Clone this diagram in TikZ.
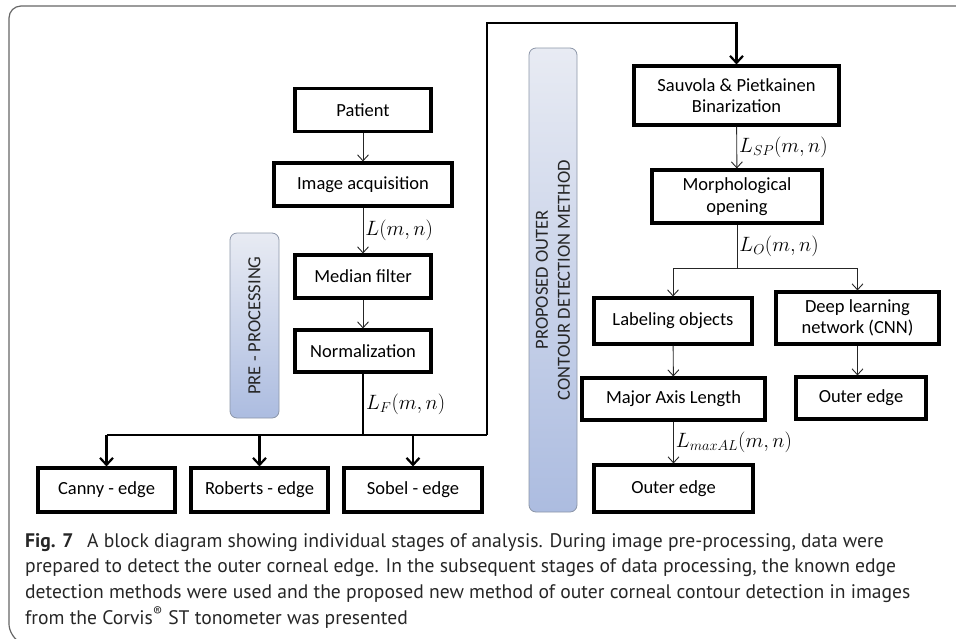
\documentclass[tikz,border=0pt]{standalone}
\usepackage{amsmath}
\usepackage{fontspec}
\setmainfont{Carlito}
\newfontfamily\capfont{PT Sans}
\usepackage{xcolor}
\usetikzlibrary{arrows.meta,shadows}
\definecolor{tabtop}{RGB}{232,235,243}
\definecolor{tabbot}{RGB}{172,188,224}
\definecolor{tabline}{RGB}{140,150,168}
\begin{document}
\begin{tikzpicture}[x=1pt,y=-1pt,
	box/.style={rectangle, draw=black, line width=3.1pt, fill=white, align=center,
		font=\fontsize{18.5}{21.5}\selectfont, inner sep=0pt,
		drop shadow={shadow xshift=1.5pt, shadow yshift=-1.5pt, opacity=0.25}},
	tab/.style={rectangle, rounded corners=7pt, draw=tabline, line width=0.8pt,
		top color=tabtop, bottom color=tabbot, align=center, inner sep=0pt,
		font=\fontsize{18}{22}\selectfont, text=black!85},
	thinarrow/.style={line width=0.9pt, draw=black!85, -{Straight Barb[length=6pt,width=11pt]}},
	thickarrow/.style={line width=2.2pt, -{Straight Barb[length=7pt,width=13pt,line width=2.2pt]}},
	lbl/.style={right, inner sep=2pt, font=\fontsize{21}{24}\selectfont},
	captext/.style={anchor=base west, inner sep=0pt, text=black!85, font=\capfont\fontsize{19.6}{23}\selectfont}]
				\useasboundingbox (0,0) rectangle (956,638);
				% frame
				\draw[black!60, line width=1.2pt, rounded corners=12pt] (960,6) -- (9,6) -- (9,636) -- (16,640);
				% tabs
				\node[tab, minimum width=49pt, minimum height=185pt] (pretab) at (254.5,325.5) {};
				\node[rotate=90, font=\fontsize{18.5}{22}\selectfont, text=black!85] at (pretab.center) {PRE - PROCESSING};
				\node[tab, minimum width=48pt, minimum height=464pt] (protab) at (553,280) {};
				\node[rotate=90, align=center, font=\fontsize{18.5}{22}\selectfont, text=black!85] at (protab.center) {PROPOSED OUTER\\CONTOUR DETECTION METHOD};
				% pre-processing
				\node[box, minimum width=136pt, minimum height=43pt] (pat) at (363,110) {Patient};
				\node[box, minimum width=178pt, minimum height=43pt] (acq) at (363,184.5) {Image acquisition};
				\node[box, minimum width=136pt, minimum height=43pt] (med) at (363,276.5) {Median filter};
				\node[box, minimum width=136pt, minimum height=42pt] (norm) at (363,351) {Normalization};
				% known edge detectors
				\node[box, minimum width=137pt, minimum height=44pt] (canny) at (106.5,490) {Canny - edge};
				\node[box, minimum width=137pt, minimum height=44pt] (rob) at (259.5,490) {Roberts - edge};
				\node[box, minimum width=138pt, minimum height=44pt] (sob) at (413,490) {Sobel - edge};
				% proposed method
				\node[box, minimum width=205pt, minimum height=59pt] (sauv) at (736.5,95.5) {Sauvola \& Pietkainen\\Binarization};
				\node[box, minimum width=170pt, minimum height=53pt] (morph) at (737,196.5) {Morphological\\opening};
				\node[box, minimum width=158pt, minimum height=46pt] (lab) at (673,321) {Labeling objects};
				\node[box, minimum width=163pt, minimum height=52pt] (cnn) at (857.5,318) {Deep learning\\network (CNN)};
				\node[box, minimum width=183pt, minimum height=42pt] (maj) at (673.5,399) {Major Axis Length};
				\node[box, minimum width=130pt, minimum height=42pt] (out2) at (861,398) {Outer edge};
				\node[box, minimum width=159pt, minimum height=47pt] (out1) at (673.5,488.5) {Outer edge};
				% branch points
				\coordinate (fb) at (363,435);
				\coordinate (ob) at (737,268);
				\coordinate (up) at (487,23);
				% connectors
				\draw[thinarrow] (pat) -- (acq);
				\draw[thinarrow] (acq) -- node[lbl] {$L(m,n)$} (med);
				\draw[thinarrow] (med) -- (norm);
				\draw[line width=2.2pt] (norm) -- node[lbl] {$L_F(m,n)$} (fb);
				\draw[line width=2.2pt] (canny.north |- fb) -- (up |- fb);
				\draw[thickarrow] (fb -| canny.north) -- (canny);
				\draw[thickarrow] (fb -| rob.north) -- (rob);
				\draw[thickarrow] (fb -| sob.north) -- (sob);
				\draw[thickarrow] (up |- fb) -- (up) -| (sauv.north);
				\draw[thinarrow] (sauv) -- node[lbl] {$L_{SP}(m,n)$} (morph);
				\draw[line width=0.9pt, draw=black!85] (morph) -- node[lbl] {$L_O(m,n)$} (ob);
				\draw[line width=0.9pt, draw=black!85] (ob -| lab.north) -- (ob -| cnn.north);
				\draw[thinarrow] (ob -| lab.north) -- (lab);
				\draw[thinarrow] (ob -| cnn.north) -- (cnn);
				\draw[thinarrow] (lab) -- (maj);
				\draw[thinarrow] (cnn) -- (cnn |- out2.north);
				\draw[thinarrow] (maj) -- node[lbl] {$L_{maxAL}(m,n)$} (out1);
				% caption
				\node[captext] (c1) at (25,547) {\textbf{Fig. 7}\hspace{0.7em}A block diagram showing individual stages of analysis. During image pre-processing, data were};
				\node[captext] (c2) at (25,572.5) {prepared to detect the outer corneal edge. In the subsequent stages of data processing, the known edge};
				\node[captext] (c3) at (25,598.5) {detection methods were used and the proposed new method of outer corneal contour detection in images};
				\node[captext] (c4) at (25,624.5) {from the Corvis\textsuperscript{\textregistered} ST tonometer was presented};
		\end{tikzpicture}
\end{document}
